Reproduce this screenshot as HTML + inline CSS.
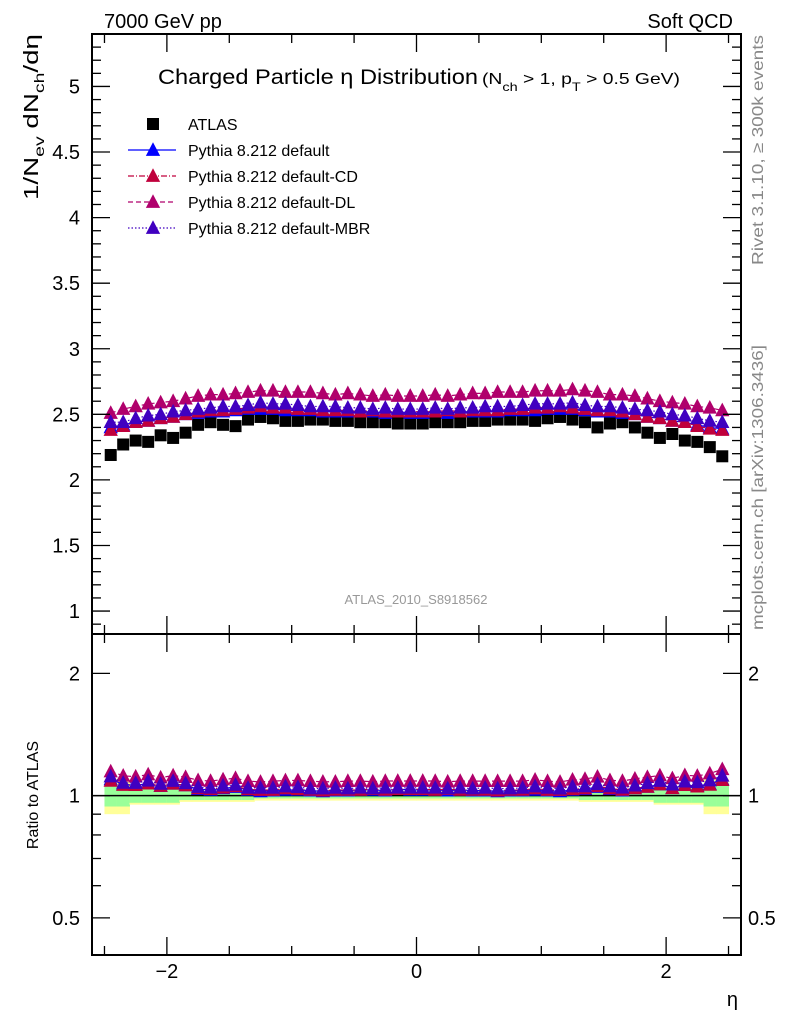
<!DOCTYPE html>
<html><head><meta charset="utf-8">
<style>
html,body{margin:0;padding:0;background:#fff;}
svg{display:block;font-family:"Liberation Sans",Arial,sans-serif;}
</style></head>
<body>
<svg id="chart" width="786" height="1024" viewBox="0 0 786 1024" xmlns="http://www.w3.org/2000/svg">
<text x="104" y="28" font-size="20">7000 GeV pp</text>
<text x="733" y="28" font-size="20" text-anchor="end">Soft QCD</text>
<text x="158" y="84" font-size="21" textLength="320" lengthAdjust="spacingAndGlyphs">Charged Particle η Distribution</text>
<text x="482" y="84" font-size="16" textLength="198" lengthAdjust="spacingAndGlyphs">(N<tspan font-size="12" dy="7">ch</tspan><tspan dy="-7"> &gt; 1, p</tspan><tspan font-size="12" dy="7">T</tspan><tspan dy="-7"> &gt; 0.5 GeV)</tspan></text>
<text transform="translate(38,200) rotate(-90)" font-size="20" textLength="166" lengthAdjust="spacingAndGlyphs">1/N<tspan font-size="14" dy="6">ev</tspan><tspan dy="-6"> dN</tspan><tspan font-size="14" dy="6">ch</tspan><tspan dy="-6">/dη</tspan></text>
<text transform="translate(38,795) rotate(-90)" font-size="16" text-anchor="middle">Ratio to ATLAS</text>
<text x="738" y="1006" font-size="20" text-anchor="end">η</text>
<text transform="translate(763,265) rotate(-90)" font-size="16" fill="#888" textLength="230" lengthAdjust="spacingAndGlyphs">Rivet 3.1.10, ≥ 300k events</text>
<text transform="translate(763,630) rotate(-90)" font-size="16" fill="#888" textLength="285" lengthAdjust="spacingAndGlyphs">mcplots.cern.ch [arXiv:1306.3436]</text>
<text x="416" y="604" font-size="13" fill="#999" text-anchor="middle">ATLAS_2010_S8918562</text>
<g id="bands"></g><g id="marks"></g><g id="axes"></g><g id="legend"></g>
</svg>
<script>
const etaCenters = [-2.45,-2.35,-2.25,-2.15,-2.05,-1.95,-1.85,-1.75,-1.65,-1.55,-1.45,-1.35,-1.25,-1.15,-1.05,-0.95,-0.85,-0.75,-0.65,-0.55,-0.45,-0.35,-0.25,-0.15,-0.05,0.05,0.15,0.25,0.35,0.45,0.55,0.65,0.75,0.85,0.95,1.05,1.15,1.25,1.35,1.45,1.55,1.65,1.75,1.85,1.95,2.05,2.15,2.25,2.35,2.45];
const atlasValues = [2.19,2.27,2.30,2.29,2.34,2.32,2.36,2.42,2.44,2.42,2.41,2.46,2.48,2.47,2.45,2.45,2.46,2.46,2.45,2.45,2.44,2.44,2.44,2.43,2.43,2.43,2.44,2.44,2.44,2.45,2.45,2.46,2.46,2.46,2.45,2.47,2.48,2.46,2.44,2.40,2.43,2.44,2.40,2.36,2.32,2.35,2.30,2.29,2.25,2.18];
const defaultValues = [2.40,2.42,2.44,2.45,2.47,2.48,2.50,2.51,2.52,2.52,2.53,2.54,2.54,2.54,2.53,2.53,2.53,2.52,2.52,2.52,2.52,2.52,2.51,2.52,2.51,2.51,2.52,2.51,2.52,2.52,2.52,2.52,2.53,2.53,2.53,2.54,2.54,2.54,2.53,2.52,2.52,2.51,2.50,2.48,2.47,2.45,2.44,2.42,2.40,2.39];
const cdValues = [2.38,2.41,2.44,2.45,2.47,2.48,2.50,2.52,2.53,2.53,2.54,2.55,2.56,2.55,2.55,2.54,2.54,2.53,2.53,2.53,2.52,2.53,2.52,2.52,2.52,2.52,2.52,2.53,2.52,2.53,2.53,2.53,2.54,2.54,2.55,2.55,2.56,2.55,2.54,2.53,2.53,2.52,2.50,2.48,2.47,2.45,2.44,2.41,2.39,2.38];
const dlValues = [2.51,2.54,2.56,2.58,2.59,2.60,2.62,2.64,2.65,2.65,2.66,2.67,2.68,2.68,2.67,2.67,2.67,2.66,2.65,2.66,2.65,2.64,2.65,2.64,2.64,2.64,2.65,2.64,2.65,2.66,2.66,2.67,2.67,2.67,2.68,2.68,2.68,2.69,2.68,2.67,2.65,2.65,2.64,2.62,2.60,2.59,2.58,2.56,2.55,2.53];
const mbrValues = [2.44,2.44,2.47,2.49,2.50,2.52,2.53,2.54,2.55,2.56,2.56,2.57,2.59,2.58,2.58,2.57,2.56,2.56,2.56,2.55,2.55,2.54,2.55,2.54,2.54,2.54,2.55,2.54,2.55,2.55,2.56,2.56,2.56,2.57,2.58,2.58,2.58,2.59,2.57,2.56,2.56,2.55,2.54,2.53,2.52,2.50,2.49,2.47,2.45,2.44];
const totalErr = [0.1,0.1,0.05,0.05,0.05,0.05,0.035,0.035,0.035,0.035,0.035,0.035,0.028,0.028,0.028,0.028,0.028,0.028,0.028,0.028,0.028,0.028,0.028,0.028,0.028,0.028,0.028,0.028,0.028,0.028,0.028,0.028,0.028,0.028,0.028,0.028,0.028,0.028,0.035,0.035,0.035,0.035,0.035,0.035,0.05,0.05,0.05,0.05,0.1,0.1];
const statErr = [0.06,0.06,0.04,0.04,0.04,0.04,0.025,0.025,0.025,0.025,0.025,0.025,0.016,0.016,0.016,0.016,0.016,0.016,0.016,0.016,0.016,0.016,0.016,0.016,0.016,0.016,0.016,0.016,0.016,0.016,0.016,0.016,0.016,0.016,0.016,0.016,0.016,0.016,0.025,0.025,0.025,0.025,0.025,0.025,0.04,0.04,0.04,0.04,0.06,0.06];
const mainTicks = ["1","1.5","2","2.5","3","3.5","4","4.5","5"];
const ratioTicks = ["0.5","1","2"];
const xTicks = ["−2","0","2"];

const NS="http://www.w3.org/2000/svg";
const L=92,R=741,T=34,D=634,B=955;
const X0=-2.6,X1=2.6,Y0=0.825,Y1=5.4,RLO=0.405,RHI=2.5;
const sx=v=>L+(v-X0)/(X1-X0)*(R-L);
const sy=v=>D-(v-Y0)/(Y1-Y0)*(D-T);
const sr=v=>B-(Math.log10(v)-Math.log10(RLO))/(Math.log10(RHI)-Math.log10(RLO))*(B-D);
function mk(tag,attrs,parent){const e=document.createElementNS(NS,tag);for(const k in attrs)e.setAttribute(k,attrs[k]);parent.appendChild(e);return e;}
const gB=document.getElementById('bands'),gM=document.getElementById('marks'),gA=document.getElementById('axes'),gL=document.getElementById('legend');

etaCenters.forEach((c,i)=>{
  const x0=sx(c-0.05),x1=sx(c+0.05);
  let r=mk('rect',{x:x0,y:sr(1+totalErr[i]),width:x1-x0+0.5,height:sr(1-totalErr[i])-sr(1+totalErr[i]),fill:'#ffff99'},gB);
  
  
  let g=mk('rect',{x:x0,y:sr(1+statErr[i]),width:x1-x0+0.5,height:sr(1-statErr[i])-sr(1+statErr[i]),fill:'#99ff99'},gB);
  
  
});
let one=mk('line',{x1:L,x2:R,y1:sr(1),y2:sr(1),stroke:'#000','stroke-width':1.5},gB);



const series=[
 {name:'pythia-default',vals:defaultValues,col:'#0000ff',dash:'',label:'Pythia 8.212 default'},
 {name:'pythia-default-cd',vals:cdValues,col:'#c0003c',dash:'6 2 1 2',label:'Pythia 8.212 default-CD'},
 {name:'pythia-default-dl',vals:dlValues,col:'#b0006c',dash:'5 3',label:'Pythia 8.212 default-DL'},
 {name:'pythia-default-mbr',vals:mbrValues,col:'#4000c0',dash:'1.5 2',label:'Pythia 8.212 default-MBR'}
];
function tri(x,y,s){return `${x},${y-s*0.6} ${x-s*0.55},${y+s*0.45} ${x+s*0.55},${y+s*0.45}`;}
etaCenters.forEach((c,i)=>{
  const s=mk('rect',{x:sx(c)-6,y:sy(atlasValues[i])-6,width:12,height:12,fill:'#000'},gM);
  
  
});
series.forEach(S=>{
  const pts=etaCenters.map((c,i)=>sx(c)+','+sy(S.vals[i])).join(' ');
  const pl=mk('polyline',{points:pts,fill:'none',stroke:S.col,'stroke-width':1.2,'stroke-dasharray':S.dash},gM);
  
  
  const rp=etaCenters.map((c,i)=>sx(c)+','+sr(S.vals[i]/atlasValues[i])).join(' ');
  const rl=mk('polyline',{points:rp,fill:'none',stroke:S.col,'stroke-width':1.2,'stroke-dasharray':S.dash},gM);
  
  
  etaCenters.forEach((c,i)=>{
    const t=mk('polygon',{points:tri(sx(c),sy(S.vals[i]),13),fill:S.col},gM);
    
    
    const tr=mk('polygon',{points:tri(sx(c),sr(S.vals[i]/atlasValues[i]),13),fill:S.col},gM);
    
    
  });
});

[[T,D],[D,B]].forEach(([a,b],k)=>{
  const f=mk('rect',{x:L,y:a,width:R-L,height:b-a,fill:'none',stroke:'#000','stroke-width':2},gA);
  
  
});
function tl(x1,y1,x2,y2){mk('line',{x1,y1,x2,y2,stroke:'#000','stroke-width':1.3},gA);}
for(let v=-2.5;v<=2.51;v+=0.5){
  const maj=Math.abs(v)%2<0.01;const len=maj?18:9;const x=sx(v);
  [T,D].forEach(y=>tl(x,y,x,y+len));
  [D,B].forEach(y=>tl(x,y,x,y-len));
}
xTicks.forEach(t=>{
  const v=parseFloat(t.replace('−','-'));
  const e=mk('text',{x:sx(v),y:978,'font-size':20,'text-anchor':'middle'},gA);e.textContent=t;
  
  
});
for(let i=9;i<=54;i++){const v=i/10;const maj=i%5==0;const len=maj?18:9;const y=sy(v);tl(L,y,L+len,y);tl(R,y,R-len,y);}
mainTicks.forEach(t=>{
  const e=mk('text',{x:80,y:sy(parseFloat(t))+7,'font-size':20,'text-anchor':'end'},gA);e.textContent=t;
  
  
});
[0.5,0.6,0.7,0.8,0.9,1,2].forEach(v=>{const maj=(v==0.5||v==1||v==2);const len=maj?18:9;const y=sr(v);tl(L,y,L+len,y);tl(R,y,R-len,y);});
ratioTicks.forEach(t=>{
  const y=sr(parseFloat(t))+7;
  const e=mk('text',{x:80,y,'font-size':20,'text-anchor':'end'},gA);e.textContent=t;
  
  
  const e2=mk('text',{x:748,y,'font-size':20},gA);e2.textContent=t;
  
  
});
const ly=[124,150,176,202,228];
const sq=mk('rect',{x:147,y:ly[0]-6,width:12,height:12,fill:'#000'},gL);


const lt=mk('text',{x:188,y:ly[0]+6,'font-size':16},gL);lt.textContent='ATLAS';


series.forEach((S,k)=>{
  const y=ly[k+1];
  const ln=mk('line',{x1:128,x2:176,y1:y,y2:y,stroke:S.col,'stroke-width':1.2,'stroke-dasharray':S.dash},gL);
  
  
  const t=mk('polygon',{points:tri(153,y,13),fill:S.col},gL);
  
  
  const tx=mk('text',{x:188,y:y+6,'font-size':16},gL);tx.textContent=S.label;
  
  
});
</script>
</body></html>
